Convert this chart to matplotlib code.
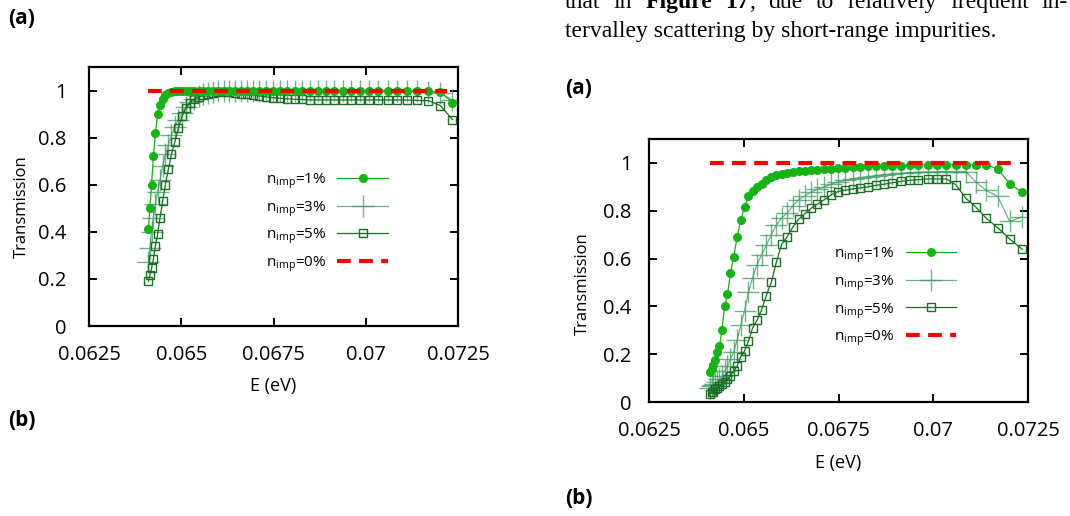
import matplotlib
matplotlib.use("Agg")
import matplotlib.pyplot as plt
from matplotlib.lines import Line2D

# energije (eV), ista mreza za sve krivulje
energija = [0.06411, 0.06415, 0.064195, 0.064245, 0.0643, 0.06436, 0.064425, 0.064495,
            0.06457, 0.06465, 0.064735, 0.064825, 0.06492, 0.06502, 0.065125, 0.065235,
            0.06535, 0.06547, 0.065595, 0.065725, 0.06586, 0.066, 0.066145, 0.066295,
            0.06645, 0.06661, 0.066775, 0.066945, 0.06712, 0.0673, 0.067485, 0.067675,
            0.06787, 0.06807, 0.068275, 0.068485, 0.0687, 0.06892, 0.069145, 0.069375,
            0.06961, 0.06985, 0.070095, 0.070345, 0.0706, 0.07086, 0.071125, 0.071395,
            0.0717, 0.07202, 0.07235]

# lijevi graf
t1_a = [0.41, 0.50, 0.60, 0.72, 0.82, 0.90, 0.94, 0.965, 0.98, 0.99, 0.995, 0.998, 0.999,
        1.0, 1.0, 1.0, 1.0, 1.0, 1.0, 1.0, 1.0, 1.0, 1.0, 1.0, 1.0,
        0.999, 0.999, 0.999, 0.999, 0.999,
        0.998, 0.998, 0.998, 0.998, 0.998, 0.998, 0.998, 0.998, 0.998, 0.998, 0.998, 0.998,
        0.998, 0.998, 0.998, 0.998, 0.998, 0.998, 0.997, 0.995, 0.948]
t3_a = [0.27, 0.33, 0.40, 0.46, 0.52, 0.57, 0.62, 0.68, 0.73, 0.77, 0.81, 0.845, 0.875,
        0.905, 0.93, 0.95, 0.965, 0.975, 0.985, 0.99, 0.995,
        1.0, 1.0, 1.0, 1.0, 1.0, 1.0, 1.0, 1.0, 1.0, 1.0, 1.0, 1.0, 1.0, 1.0, 1.0, 1.0, 1.0,
        1.0, 1.0, 1.0, 1.0, 1.0, 1.0, 1.0, 1.0, 1.0, 0.998, 0.995, 0.99, 0.96]
t5_a = [0.19, 0.217, 0.245, 0.285, 0.34, 0.39, 0.46, 0.53, 0.60, 0.665, 0.73, 0.78, 0.84,
        0.89, 0.925, 0.948, 0.962, 0.972, 0.98, 0.986, 0.99, 0.994, 0.995, 0.994, 0.99,
        0.987, 0.984, 0.98, 0.977, 0.973, 0.97, 0.967, 0.965, 0.963, 0.962,
        0.96, 0.96, 0.96, 0.96, 0.96, 0.96, 0.96, 0.96, 0.96, 0.96, 0.96, 0.96,
        0.958, 0.957, 0.936, 0.877]

# desni graf
t1_b = [0.127, 0.14, 0.155, 0.175, 0.21, 0.235, 0.30, 0.40, 0.45, 0.54, 0.605, 0.69, 0.76,
        0.815, 0.86, 0.882, 0.898, 0.912, 0.928, 0.941, 0.949, 0.955, 0.958, 0.962, 0.965,
        0.967, 0.970, 0.972, 0.974, 0.976, 0.978, 0.980, 0.982, 0.984, 0.985, 0.986, 0.987,
        0.988, 0.989, 0.990, 0.991, 0.991, 0.992, 0.992, 0.992, 0.992, 0.992, 0.992,
        0.975, 0.912, 0.877]
t3_b = [0.06, 0.065, 0.07, 0.075, 0.085, 0.095, 0.11, 0.13, 0.15, 0.18, 0.21, 0.26, 0.32,
        0.38, 0.46, 0.52, 0.575, 0.615, 0.655, 0.70, 0.74, 0.77, 0.79, 0.82, 0.845, 0.862,
        0.878, 0.89, 0.90, 0.91, 0.92, 0.927, 0.933, 0.938, 0.943, 0.947, 0.951, 0.954,
        0.957, 0.959, 0.961, 0.962, 0.963, 0.964, 0.964, 0.964, 0.92, 0.885, 0.86, 0.755,
        0.775]
t5_b = [0.035, 0.04, 0.043, 0.055, 0.06, 0.065, 0.075, 0.085, 0.095, 0.11, 0.13, 0.15,
        0.19, 0.213, 0.255, 0.31, 0.342, 0.385, 0.445, 0.50, 0.585, 0.66, 0.69, 0.732,
        0.765, 0.787, 0.81, 0.828, 0.845, 0.866, 0.88, 0.886, 0.891, 0.895, 0.90, 0.906,
        0.911, 0.917, 0.923, 0.927, 0.93, 0.933, 0.933, 0.933, 0.908, 0.852, 0.815, 0.769,
        0.729, 0.681, 0.639]

# bez necistoca
e0 = [0.06411, 0.0722]
t0 = [1, 1]

xt = [0.0625, 0.065, 0.0675, 0.07, 0.0725]
xt_oznake = ["0.0625", "0.065", "0.0675", "0.07", "0.0725"]
yt = [0, 0.2, 0.4, 0.6, 0.8, 1]
yt_oznake = ["0", "0.2", "0.4", "0.6", "0.8", "1"]
oznake = [r"n$_\mathregular{imp}$=1%", r"n$_\mathregular{imp}$=3%",
          r"n$_\mathregular{imp}$=5%", r"n$_\mathregular{imp}$=0%"]

SANS = "Open Sans"
SERIF = "Liberation Serif"
C1 = "#14b414"
C3 = "#3d9a63"
C5 = "#1b6f22"
W, H = 1070, 516

plt.rcParams["font.family"] = SANS

fig = plt.figure(figsize=(W / 100, H / 100), dpi=100)


def osi(l, r, t, b):
    return fig.add_axes([l / W, 1 - b / H, (r - l) / W, (b - t) / H])


def crtaj(ax, t1, t3, t5, ylab_x, ylab_y, xlab_y, ypad):
    stil3 = dict(color=C3, alpha=0.75, lw=0.9, marker="+", ms=16, mew=1.0)
    stil5 = dict(color=C5, lw=0.9, marker="s", ms=5.5, mfc="none", mew=1.0)
    stil1 = dict(color=C1, lw=0.9, marker="o", ms=5.5)
    stil0 = dict(color="#ff0000", lw=3.0, dashes=(3.3, 2.0))
    ax.plot(energija, t3, **stil3)
    ax.plot(energija, t5, **stil5)
    ax.plot(energija, t1, **stil1)
    ax.plot(e0, t0, **stil0)
    ax.set_xlim(0.0625, 0.0725)
    ax.set_ylim(0, 1.1)
    ax.set_xticks(xt)
    ax.set_xticklabels(xt_oznake)
    ax.set_yticks(yt)
    ax.set_yticklabels(yt_oznake)
    ax.tick_params(direction="in", top=True, right=True, length=6, width=1.4,
                   labelsize=14.5)
    ax.tick_params(axis="x", pad=14)
    ax.tick_params(axis="y", pad=ypad)
    for s in ax.spines.values():
        s.set_linewidth(1.6)
    ax.set_ylabel("Transmission", fontsize=12)
    ax.set_xlabel("E (eV)", fontsize=13)
    ax.yaxis.set_label_coords(ylab_x, ylab_y)
    ax.xaxis.set_label_coords(0.5, xlab_y)
    ruke = [Line2D([], [], **stil1), Line2D([], [], **stil3),
            Line2D([], [], **stil5), Line2D([], [], **stil0)]
    ax.legend(ruke, oznake, loc="center right", bbox_to_anchor=(0.81, 0.40),
              frameon=False, markerfirst=False, fontsize=11, handlelength=3.3,
              handletextpad=0.75, labelspacing=0.5, borderpad=0, borderaxespad=0)


ax1 = osi(89, 458, 67, 326)
crtaj(ax1, t1_a, t3_a, t5_a, -0.16, 0.46, -0.195, 16)
ax2 = osi(649, 1028, 139, 402)
crtaj(ax2, t1_b, t3_b, t5_b, -0.153, 0.45, -0.198, 12.5)


def tekst(x, y, s, **kw):
    return fig.text(x / W, 1 - y / H, s, **kw)


for x, y, s in [(8, 18, "(a)"), (8, 421, "(b)"), (565, 89, "(a)"), (565, 499, "(b)")]:
    tekst(x, y, s, fontsize=15, fontweight="bold", va="center", ha="left")

# tekst iz clanka iznad desnog grafa
r = fig.canvas.get_renderer()
probni = tekst(565, 37, "tervalley scattering by short-range impurities.",
               family=SERIF, fontsize=15, va="baseline")
fs = 15 * 434 / probni.get_window_extent(r).width
probni.set_fontsize(fs)

# prvi red je poravnat na obje strane (565 do 1068 px)
rijeci = [[("that", "normal")], [("in", "normal")], [("Figure", "bold")],
          [("17", "bold"), (",", "normal")], [("due", "normal")], [("to", "normal")],
          [("relatively", "normal")], [("frequent", "normal")], [("in-", "normal")]]
dijelovi = []
ukupno = 0
for rijec in rijeci:
    for s, w in rijec:
        t = tekst(0, 8, s, family=SERIF, fontsize=fs, fontweight=w, va="baseline")
        sirina = t.get_window_extent(r).width
        dijelovi.append((t, sirina))
        ukupno += sirina
razmak = (503 - ukupno) / (len(rijeci) - 1)
x = 565
k = 0
for rijec in rijeci:
    for _ in rijec:
        t, sirina = dijelovi[k]
        t.set_x(x / W)
        x += sirina
        k += 1
    x += razmak

fig.savefig("out.png", dpi=100)
